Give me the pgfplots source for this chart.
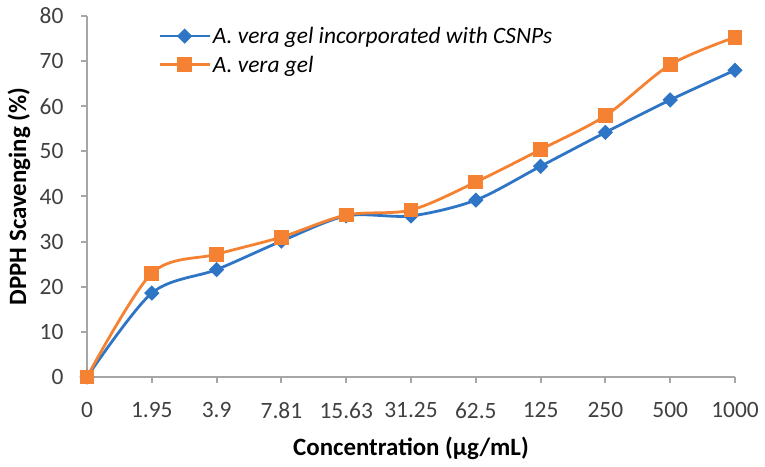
\documentclass[border=0pt]{standalone}
\usepackage{pgfplots}
\pgfplotsset{compat=1.18}
\usepackage{fontspec}
\setmainfont{Carlito}
\definecolor{cblue}{HTML}{2E75C6}
\definecolor{corange}{HTML}{F58232}
\definecolor{axgray}{HTML}{A6A6A6}
\definecolor{txtgray}{HTML}{404040}
\begin{document}
\begin{tikzpicture}
\begin{axis}[
  at={(0,0)}, anchor=south west,
  scale only axis,
  width=648bp, height=361bp,
  xmin=0, xmax=10, ymin=0, ymax=80,
  ytick={0,10,...,80},
  xtick={0,...,10},
  xticklabels={0,1.95,3.9,7.81,15.63,31.25,62.5,125,250,500,1000},
  axis lines*=left,
  axis line style={axgray, line width=2bp},
  tick style={axgray, line width=2bp},
  tick align=outside,
  major tick length=6bp,
  clip=false,
  /pgf/number format/assume math mode=true,
  tick label style={font=\fontsize{23.5}{27}\selectfont, text=txtgray},
  yticklabel style={xshift=-14bp},
  xticklabel style={yshift=-16bp},
  xlabel={\textbf{Concentration (µg/mL)}},
  ylabel={\textbf{DPPH Scavenging (\%)}},
  label style={font=\fontsize{25}{28}\selectfont, text=black},
  xlabel style={at={(axis description cs:0.5,0)}, anchor=center, yshift=-71bp},
  ylabel style={at={(axis description cs:0,0.5)}, anchor=center, yshift=68bp},
  legend style={draw=none, fill=none, at={(68bp,361bp-7bp)}, anchor=north west,
    font=\fontsize{23.5}{27}\selectfont\itshape, row sep=7bp,
    legend cell align=left},
  legend image code/.code={
    \draw[#1, mark repeat=2, mark phase=2] plot coordinates {(0bp,0bp) (25bp,0bp) (50bp,0bp)};
  },
]
\addplot[cblue, line width=2.8bp, smooth, tension=0.5, mark=square*, mark size=4bp, mark options={solid, fill=cblue, rotate=45}]
  coordinates {(0,0) (1,18.6) (2,23.8) (3,30.1) (4,35.7) (5,35.7) (6,39.2) (7,46.7) (8,54.2) (9,61.4) (10,68.0)};
\addlegendentry{A. vera gel incorporated with CSNPs}
\addplot[corange, line width=2.8bp, smooth, tension=0.5, mark=square*, mark size=6bp, mark options={solid, fill=corange}]
  coordinates {(0,0) (1,23.0) (2,27.2) (3,31.0) (4,35.9) (5,37.0) (6,43.2) (7,50.4) (8,57.9) (9,69.2) (10,75.3)};
\addlegendentry{A. vera gel}
\end{axis}
\pgfresetboundingbox
\path[use as bounding box] (-87bp,-90bp) rectangle (678bp,377bp);
\end{tikzpicture}
\end{document}
